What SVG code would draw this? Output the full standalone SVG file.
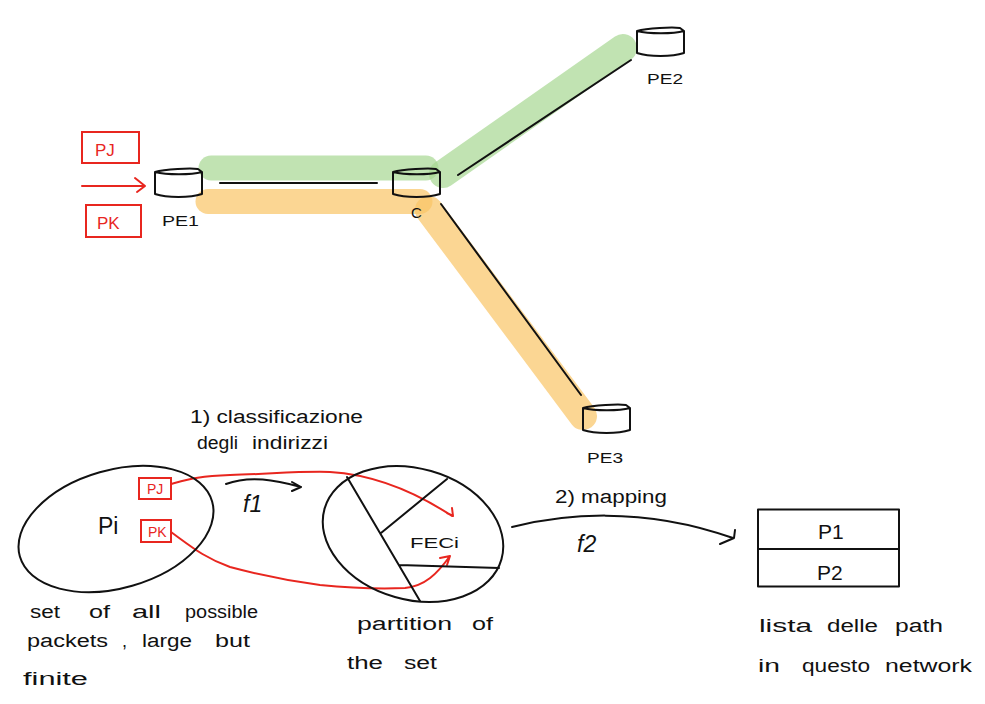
<svg xmlns="http://www.w3.org/2000/svg" width="985" height="704" viewBox="0 0 985 704">
<style>
text{font-family:"Liberation Sans",Arial,sans-serif;fill:#111}
.hand{font-size:18px}
.pe{font-size:15px}
.red{fill:#e8261f;font-size:17px}
.reds{fill:#e8261f;font-size:14px}
.big{font-size:21px}
.fn{font-size:23px;font-style:italic}
.ink{fill:none;stroke:#111;stroke-width:2;stroke-linecap:round;stroke-linejoin:round}
.rl{fill:none;stroke:#e8261f;stroke-width:2;stroke-linecap:round;stroke-linejoin:round}
.box{fill:none;stroke:#e8261f;stroke-width:2}
.green{fill:none;stroke:#a6d792;stroke-opacity:.7;stroke-linecap:round}
.orange{fill:none;stroke:#f9c565;stroke-opacity:.7;stroke-linecap:round}
</style>
<defs>
<path id="cyl" class="ink" d="M0 4C10 1 36 0 43 1L47 4C36 7 12 7 0 4L0 26C12 30 35 30 47 26L47 4"/>
</defs>
<rect width="985" height="704" fill="#fff"/>
<g id="highlights">
<path class="green" stroke-width="25" d="M211 168H426"/>
<path class="green" stroke-width="28" d="M443 174L623 48"/>
<path class="orange" stroke-width="25" d="M208 201.500H420"/>
<path class="orange" stroke-width="28" d="M429 210L583 416"/>
</g>
<g id="connectors">
<path class="ink" d="M220 183H377M458 175L631 60M441 204L581 395"/>
<path class="rl" d="M82 186H145M135 178L145 186L137 192"/>
<path class="ink" d="M226 484C250 475 275 480 301 487M292 482L301 487L292 491"/>
<path class="rl" d="M171 484C190 479 200 476 230 475C270 474 300 471 330 472C380 475 420 495 452 516M447 513L453 516L452 508"/>
<path class="rl" d="M171 532C193 548 205 558 230 567C260 575 290 581 320 585C350 588 380 589 405 588C425 586 437 574 450 556M440 558L450 556L447 565"/>
<path class="ink" d="M512 527C560 515 640 505 733 538M735 530L734 538L720 544"/>
</g>
<g id="pe1"><use href="#cyl" x="155" y="168"/><text class="pe" x="162" y="226" textLength="37" lengthAdjust="spacingAndGlyphs">PE1</text></g>
<g id="pe2"><use href="#cyl" x="637" y="27"/><text class="pe" x="647" y="84" textLength="36" lengthAdjust="spacingAndGlyphs">PE2</text></g>
<g id="pe3"><use href="#cyl" x="583" y="404"/><text class="pe" x="587" y="463" textLength="36" lengthAdjust="spacingAndGlyphs">PE3</text></g>
<g id="c"><use href="#cyl" x="393" y="168"/><text class="pe" x="411" y="218">C</text></g>
<g id="pj-top"><rect class="box" x="82" y="132" width="57" height="31"/><text class="red" x="95" y="156">PJ</text></g>
<g id="pk-top"><rect class="box" x="86" y="205" width="55" height="32"/><text class="red" x="97" y="229">PK</text></g>
<g id="set-p"><ellipse class="ink" cx="116" cy="529" rx="100" ry="59" transform="rotate(-16 116 529)"/><text class="fn" style="font-style:normal" x="98" y="534">Pi</text></g>
<g id="pj-small"><rect class="box" x="139" y="478" width="32" height="21"/><text class="reds" x="147" y="494">PJ</text></g>
<g id="pk-small"><rect class="box" x="141" y="520" width="30" height="22"/><text class="reds" x="148" y="537">PK</text></g>
<g id="partition">
<ellipse class="ink" cx="413" cy="534" rx="92" ry="65.500" transform="rotate(16 413 534)"/>
<path class="ink" d="M347 477L420 601M381 533L447 479M399 565L499 568"/>
<text class="pe" x="410" y="548" textLength="49" lengthAdjust="spacingAndGlyphs">FECi</text>
</g>
<g id="table">
<rect class="ink" x="758" y="509.500" width="141" height="77"/>
<path class="ink" d="M758 549H899"/>
<text class="big" x="818" y="539">P1</text>
<text class="big" x="817" y="580">P2</text>
</g>
<g id="labels">
<text class="fn" x="243" y="512">f1</text>
<text class="fn" x="577" y="552">f2</text>
<text class="hand" x="190" y="423" textLength="173" lengthAdjust="spacingAndGlyphs">1) classificazione</text>
<text class="hand" x="197" y="449" textLength="41" lengthAdjust="spacingAndGlyphs">degli</text>
<text class="hand" x="252" y="449" textLength="76" lengthAdjust="spacingAndGlyphs">indirizzi</text>
<text class="hand" x="555" y="503" textLength="112" lengthAdjust="spacingAndGlyphs">2) mapping</text>
<text class="hand" x="30" y="618" textLength="30" lengthAdjust="spacingAndGlyphs">set</text>
<text class="hand" x="89" y="618" textLength="21" lengthAdjust="spacingAndGlyphs">of</text>
<text class="hand" x="132" y="618" textLength="29" lengthAdjust="spacingAndGlyphs">all</text>
<text class="hand" x="185" y="618" textLength="73" lengthAdjust="spacingAndGlyphs">possible</text>
<text class="hand" x="27" y="647" textLength="81" lengthAdjust="spacingAndGlyphs">packets</text>
<text class="hand" x="122" y="647">,</text>
<text class="hand" x="142" y="647" textLength="50" lengthAdjust="spacingAndGlyphs">large</text>
<text class="hand" x="215" y="647" textLength="35" lengthAdjust="spacingAndGlyphs">but</text>
<text class="hand" x="23" y="685" textLength="65" lengthAdjust="spacingAndGlyphs">finite</text>
<text class="hand" x="357" y="630" textLength="95" lengthAdjust="spacingAndGlyphs">partition</text>
<text class="hand" x="472" y="630" textLength="21" lengthAdjust="spacingAndGlyphs">of</text>
<text class="hand" x="347" y="669" textLength="36" lengthAdjust="spacingAndGlyphs">the</text>
<text class="hand" x="404" y="669" textLength="33" lengthAdjust="spacingAndGlyphs">set</text>
<text class="hand" x="759" y="632" textLength="53" lengthAdjust="spacingAndGlyphs">lista</text>
<text class="hand" x="827" y="632" textLength="51" lengthAdjust="spacingAndGlyphs">delle</text>
<text class="hand" x="895" y="632" textLength="48" lengthAdjust="spacingAndGlyphs">path</text>
<text class="hand" x="758" y="672" textLength="22" lengthAdjust="spacingAndGlyphs">in</text>
<text class="hand" x="802" y="672" textLength="68" lengthAdjust="spacingAndGlyphs">questo</text>
<text class="hand" x="885" y="672" textLength="87" lengthAdjust="spacingAndGlyphs">network</text>
</g>
</svg>
